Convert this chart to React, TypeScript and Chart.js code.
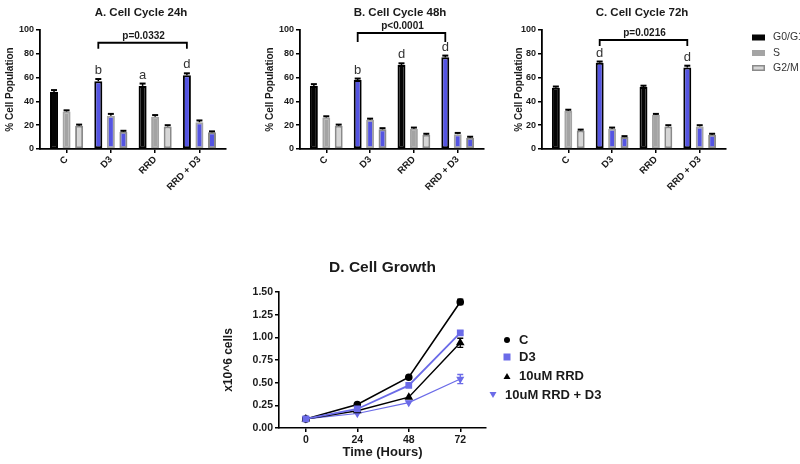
import React, { useEffect, useRef } from 'react';
import { Chart, registerables } from 'chart.js';

Chart.register(...registerables);

// ---------- data ----------
const groups = ['C', 'D3', 'RRD', 'RRD + D3'];
const phases = ['G0/G1', 'S', 'G2/M'];

const g0h24 = [48, 57, 53, 62];
const sh24 = [31.5, 28, 27, 22.5];
const g2h24 = [19.5, 14.5, 19, 14];
const g0h24Err = [1.5, 1.8, 2, 1.6];
const sh24Err = [1, 1.5, 1.5, 1.5];
const g2h24Err = [1, 0.8, 1, 0.8];
const letters24 = ['', 'b', 'a', 'd'];

const g0h48 = [53, 58, 70.5, 77];
const sh48 = [26.5, 24.5, 17, 12.5];
const g2h48 = [19.5, 16.5, 12, 9.5];
const g0h48Err = [1.5, 1.2, 1.5, 1.5];
const sh48Err = [1, 1, 1, 1];
const g2h48Err = [1, 1, 0.8, 0.8];
const letters48 = ['', 'b', 'd', 'd'];

const g0h72 = [51.5, 72.5, 52, 68.5];
const sh72 = [32, 17, 28.5, 19];
const g2h72 = [15.5, 10, 19, 12];
const g0h72Err = [1, 1, 1.2, 1.5];
const sh72Err = [1, 1, 1, 1];
const g2h72Err = [0.8, 0.8, 1, 0.8];
const letters72 = ['', 'd', '', 'd'];

const titles = ['A. Cell Cycle 24h', 'B. Cell Cycle 48h', 'C. Cell Cycle 72h'];
const pValues = ['p=0.0332', 'p<0.0001', 'p=0.0216'];
const bracketLevels = [89.3, 97.5, 91.6];

const hours = [0, 24, 48, 72];
const growthC = [0.1, 0.26, 0.56, 1.39];
const growthD3 = [0.1, 0.21, 0.47, 1.05];
const growthRRD = [0.1, 0.19, 0.34, 0.94];
const growthRRDD3 = [0.1, 0.16, 0.28, 0.54];
const growthCErr = [0.01, 0.01, 0.01, 0.03];
const growthD3Err = [0.01, 0.01, 0.01, 0.02];
const growthRRDErr = [0.01, 0.01, 0.01, 0.05];
const growthRRDD3Err = [0.01, 0.01, 0.01, 0.05];
const growthLabels = ['C', 'D3', '10uM RRD', '10uM RRD + D3'];
const growthTitle = 'D. Cell Growth';

// ---------- styles ----------
const FONT = "'Liberation Sans', Arial, Helvetica, sans-serif";
const BLACK = '#050505';
const GRAY = '#a4a4a4';
const LIGHT = '#d6d6d6';
const LIGHT_BORDER = '#8a8a8a';
const BLUE = '#5454e2';
const LINE_BLUE = '#6b6be8';
const TEXT = '#1a1a1a';

const isBlueGroup = (i: number) => i === 1 || i === 3;

type BarSpec = {
  title: string;
  g0: number[]; s: number[]; g2: number[];
  errs: number[][];
  letters: string[];
  p: string;
  bracket: number;
  drop: number;
  legend: boolean;
};

const barSpecs: BarSpec[] = [
  { title: titles[0], g0: g0h24, s: sh24, g2: g2h24, errs: [g0h24Err, sh24Err, g2h24Err], letters: letters24, p: pValues[0], bracket: bracketLevels[0], drop: 6, legend: false },
  { title: titles[1], g0: g0h48, s: sh48, g2: g2h48, errs: [g0h48Err, sh48Err, g2h48Err], letters: letters48, p: pValues[1], bracket: bracketLevels[1], drop: 9, legend: false },
  { title: titles[2], g0: g0h72, s: sh72, g2: g2h72, errs: [g0h72Err, sh72Err, g2h72Err], letters: letters72, p: pValues[2], bracket: bracketLevels[2], drop: 6, legend: true },
];

const barDecor = {
  id: 'barDecor',
  afterDatasetsDraw(chart: any, _args: any, opts: any) {
    const { ctx, chartArea } = chart;
    const y = chart.scales.y;
    const spec: BarSpec = opts.spec;
    ctx.save();
    // error bars
    chart.data.datasets.forEach((ds: any, di: number) => {
      const meta = chart.getDatasetMeta(di);
      meta.data.forEach((el: any, i: number) => {
        const v = ds.data[i].y;
        const yt = y.getPixelForValue(v + spec.errs[di][i]);
        ctx.strokeStyle = '#000';
        ctx.lineWidth = 1.5;
        ctx.beginPath();
        ctx.moveTo(el.x, el.y);
        ctx.lineTo(el.x, yt);
        ctx.stroke();
        ctx.lineWidth = 2;
        ctx.beginPath();
        ctx.moveTo(el.x - 3, yt);
        ctx.lineTo(el.x + 3, yt);
        ctx.stroke();
      });
    });
    // letters
    const m0 = chart.getDatasetMeta(0);
    ctx.fillStyle = '#333';
    ctx.font = `13px ${FONT}`;
    ctx.textAlign = 'center';
    ctx.textBaseline = 'alphabetic';
    spec.letters.forEach((L, i) => {
      if (!L) return;
      const el = m0.data[i];
      const yt = y.getPixelForValue(spec.g0[i] + spec.errs[0][i]);
      ctx.fillText(L, el.x, yt - 5);
    });
    // bracket
    const xa = m0.data[1].x;
    const xb = m0.data[3].x;
    const yb = y.getPixelForValue(spec.bracket);
    ctx.strokeStyle = '#000';
    ctx.lineWidth = 1.8;
    ctx.beginPath();
    ctx.moveTo(xa, yb + spec.drop);
    ctx.lineTo(xa, yb);
    ctx.lineTo(xb, yb);
    ctx.lineTo(xb, yb + spec.drop);
    ctx.stroke();
    ctx.fillStyle = TEXT;
    ctx.font = `bold 10px ${FONT}`;
    ctx.fillText(spec.p, (xa + xb) / 2 + 1, yb - 4);
    // title
    ctx.font = `bold 11.5px ${FONT}`;
    ctx.textBaseline = 'middle';
    ctx.fillText(spec.title, (chartArea.left + chartArea.right) / 2 + 8, 13);
    // legend
    if (spec.legend) {
      const bx = chartArea.right + 26;
      const rows = [7.5, 23, 38];
      chart.data.datasets.forEach((ds: any, di: number) => {
        const cy = chartArea.top + rows[di];
        const fill = ds.backgroundColor[0];
        const border = ds.borderColor[0];
        ctx.fillStyle = fill;
        ctx.fillRect(bx, cy - 3, 13, 6);
        if (di === 2) {
          ctx.strokeStyle = border;
          ctx.lineWidth = 1.5;
          ctx.strokeRect(bx + 0.75, cy - 2.25, 11.5, 4.5);
        }
        ctx.fillStyle = '#333';
        ctx.font = `10.5px ${FONT}`;
        ctx.textAlign = 'left';
        ctx.textBaseline = 'middle';
        ctx.fillText(ds.label, bx + 21, cy);
      });
    }
    ctx.restore();
  },
};

function BarPanel(props: { spec: BarSpec; left: number; width: number; axisWidth: number; padRight: number }) {
  const ref = useRef<HTMLCanvasElement>(null);
  const { spec, left, width, axisWidth, padRight } = props;
  const height = 200;
  useEffect(() => {
    const mk = (vals: number[]) => vals.map((v, i) => ({ x: i, y: v }));
    const chart = new Chart(ref.current as HTMLCanvasElement, {
      type: 'bar',
      data: {
        datasets: [
          {
            label: phases[0],
            data: mk(spec.g0),
            backgroundColor: groups.map((_, i) => (isBlueGroup(i) ? BLUE : BLACK)),
            borderColor: groups.map(() => '#000'),
            borderWidth: 2,
            borderSkipped: false,
          },
          {
            label: phases[1],
            data: mk(spec.s),
            backgroundColor: groups.map((_, i) => (isBlueGroup(i) ? BLUE : GRAY)),
            borderColor: groups.map(() => GRAY),
            borderWidth: 2,
            borderSkipped: false,
          },
          {
            label: phases[2],
            data: mk(spec.g2),
            backgroundColor: groups.map((_, i) => (isBlueGroup(i) ? BLUE : LIGHT)),
            borderColor: groups.map(() => LIGHT_BORDER),
            borderWidth: 2,
            borderSkipped: false,
          },
        ] as any,
      },
      options: {
        responsive: false,
        animation: false,
        events: [],
        categoryPercentage: 0.85,
        barPercentage: 0.64,
        layout: { padding: { top: 30, left: 0, right: padRight, bottom: 0 } },
        plugins: {
          legend: { display: false },
          tooltip: { enabled: false },
          barDecor: { spec },
        } as any,
        scales: {
          x: {
            type: 'linear',
            offset: false,
            min: -0.6,
            max: 3.6,
            afterBuildTicks: (s: any) => {
              s.ticks = groups.map((_, i) => ({ value: i }));
            },
            afterFit: (s: any) => {
              s.height = 51;
            },
            ticks: {
              autoSkip: false,
              minRotation: 45,
              maxRotation: 45,
              padding: 1,
              color: TEXT,
              font: { family: FONT, size: 9.5, weight: 'bold' },
              callback: (v: any) => groups[v] ?? '',
            },
            grid: { offset: false, drawOnChartArea: false, drawTicks: true, tickLength: 4, color: '#000', lineWidth: 1.5 },
            border: { display: true, color: '#000', width: 1.8 },
          },
          y: {
            min: 0,
            max: 100,
            afterFit: (s: any) => {
              s.width = axisWidth;
            },
            ticks: {
              stepSize: 20,
              padding: 2,
              color: TEXT,
              font: { family: FONT, size: 9, weight: 'bold' },
            },
            title: {
              display: true,
              text: '% Cell Population',
              color: TEXT,
              font: { family: FONT, size: 10, weight: 'bold' },
              padding: { top: 4, bottom: 0 },
            },
            grid: { drawOnChartArea: false, drawTicks: true, tickLength: 4, color: '#000', lineWidth: 1.5 },
            border: { display: true, color: '#000', width: 1.8 },
          },
        } as any,
      },
      plugins: [barDecor],
    } as any);
    return () => chart.destroy();
  }, []);
  return (
    <canvas
      ref={ref}
      width={width}
      height={height}
      style={{ position: 'absolute', left, top: 0, width, height }}
    />
  );
}

const growthDecor = {
  id: 'growthDecor',
  afterDatasetsDraw(chart: any, _args: any, opts: any) {
    const { ctx, chartArea } = chart;
    const y = chart.scales.y;
    const errs: number[][] = opts.errs;
    ctx.save();
    chart.data.datasets.forEach((ds: any, di: number) => {
      const meta = chart.getDatasetMeta(di);
      meta.data.forEach((el: any, i: number) => {
        const v = ds.data[i].y;
        const e = errs[di][i];
        const y1 = y.getPixelForValue(v + e);
        const y2 = y.getPixelForValue(v - e);
        if (y2 - y1 < 3) return;
        ctx.strokeStyle = ds.borderColor;
        ctx.lineWidth = 1.3;
        ctx.beginPath();
        ctx.moveTo(el.x, y1);
        ctx.lineTo(el.x, y2);
        ctx.moveTo(el.x - 3, y1);
        ctx.lineTo(el.x + 3, y1);
        ctx.moveTo(el.x - 3, y2);
        ctx.lineTo(el.x + 3, y2);
        ctx.stroke();
      });
    });
    // title
    ctx.fillStyle = TEXT;
    ctx.font = `bold 15.5px ${FONT}`;
    ctx.textAlign = 'center';
    ctx.textBaseline = 'middle';
    ctx.fillText(opts.title, (chartArea.left + chartArea.right) / 2, 13);
    // legend
    const rows = [85, 102, 121, 140];
    const markerDx = [21, 21, 21, 7];
    chart.data.datasets.forEach((ds: any, di: number) => {
      const mx = chartArea.right + markerDx[di];
      const my = rows[di];
      ctx.fillStyle = ds.backgroundColor;
      ctx.beginPath();
      if (ds.pointStyle === 'circle') {
        ctx.arc(mx, my, 3, 0, Math.PI * 2);
      } else if (ds.pointStyle === 'rect') {
        ctx.rect(mx - 3.5, my - 3.5, 7, 7);
      } else if (ds.pointRotation === 180) {
        ctx.moveTo(mx - 3.5, my - 3);
        ctx.lineTo(mx + 3.5, my - 3);
        ctx.lineTo(mx, my + 3);
      } else {
        ctx.moveTo(mx - 3.5, my + 3);
        ctx.lineTo(mx + 3.5, my + 3);
        ctx.lineTo(mx, my - 3);
      }
      ctx.closePath();
      ctx.fill();
      ctx.fillStyle = TEXT;
      ctx.font = `bold 13px ${FONT}`;
      ctx.textAlign = 'left';
      ctx.textBaseline = 'middle';
      ctx.fillText(ds.label, mx + 12, my);
    });
    ctx.restore();
  },
};

function GrowthPanel() {
  const ref = useRef<HTMLCanvasElement>(null);
  const left = 217;
  const top = 255;
  const width = 403;
  const height = 209;
  useEffect(() => {
    const mk = (vals: number[]) => vals.map((v, i) => ({ x: hours[i], y: v }));
    const chart = new Chart(ref.current as HTMLCanvasElement, {
      type: 'line',
      data: {
        datasets: [
          { label: growthLabels[0], data: mk(growthC), order: 1, borderColor: '#000', backgroundColor: '#000', pointStyle: 'circle', pointRadius: 3, borderWidth: 1.6 },
          { label: growthLabels[1], data: mk(growthD3), order: 0, borderColor: LINE_BLUE, backgroundColor: LINE_BLUE, pointStyle: 'rect', pointRadius: 3.5, borderWidth: 1.8 },
          { label: growthLabels[2], data: mk(growthRRD), order: 2, borderColor: '#000', backgroundColor: '#000', pointStyle: 'triangle', pointRadius: 3.5, borderWidth: 1.5 },
          { label: growthLabels[3], data: mk(growthRRDD3), order: 3, borderColor: LINE_BLUE, backgroundColor: LINE_BLUE, pointStyle: 'triangle', pointRotation: 180, pointRadius: 3.5, borderWidth: 1.2 },
        ] as any,
      },
      options: {
        responsive: false,
        animation: false,
        events: [],
        layout: { padding: { top: 37, left: 0, right: 134, bottom: 0 } },
        plugins: {
          legend: { display: false },
          tooltip: { enabled: false },
          growthDecor: { errs: [growthCErr, growthD3Err, growthRRDErr, growthRRDD3Err], title: growthTitle },
        } as any,
        scales: {
          x: {
            type: 'linear',
            min: -12.5,
            max: 84,
            afterBuildTicks: (s: any) => {
              s.ticks = hours.map((h) => ({ value: h }));
            },
            afterFit: (s: any) => {
              s.height = 36;
            },
            ticks: {
              color: TEXT,
              padding: 2,
              maxRotation: 0,
              font: { family: FONT, size: 10.5, weight: 'bold' },
            },
            title: {
              display: true,
              text: 'Time (Hours)',
              color: TEXT,
              font: { family: FONT, size: 13, weight: 'bold' },
              padding: { top: 0, bottom: 4 },
            },
            grid: { drawOnChartArea: false, drawTicks: true, tickLength: 4, color: '#000', lineWidth: 1.5 },
            border: { display: true, color: '#000', width: 1.6 },
          },
          y: {
            min: 0,
            max: 1.5,
            afterFit: (s: any) => {
              s.width = 62;
            },
            ticks: {
              stepSize: 0.25,
              padding: 2,
              color: TEXT,
              font: { family: FONT, size: 10.5, weight: 'bold' },
              callback: (v: any) => Number(v).toFixed(2),
            },
            title: {
              display: true,
              text: 'x10^6 cells',
              color: TEXT,
              font: { family: FONT, size: 12, weight: 'bold' },
              padding: { top: 4, bottom: 0 },
            },
            grid: { drawOnChartArea: false, drawTicks: true, tickLength: 4, color: '#000', lineWidth: 1.5 },
            border: { display: true, color: '#000', width: 1.6 },
          },
        } as any,
      },
      plugins: [growthDecor],
    } as any);
    return () => chart.destroy();
  }, []);
  return (
    <canvas
      ref={ref}
      width={width}
      height={height}
      style={{ position: 'absolute', left, top, width, height }}
    />
  );
}

export default function App() {
  return (
    <div style={{ position: 'absolute', left: 0, top: 0, width: 800, height: 464, background: '#fff', overflow: 'hidden' }}>
      <BarPanel spec={barSpecs[0]} left={0} width={260} axisWidth={40} padRight={34} />
      <BarPanel spec={barSpecs[1]} left={260} width={249} axisWidth={40} padRight={25} />
      <BarPanel spec={barSpecs[2]} left={509} width={291} axisWidth={33} padRight={74} />
      <GrowthPanel />
    </div>
  );
}
